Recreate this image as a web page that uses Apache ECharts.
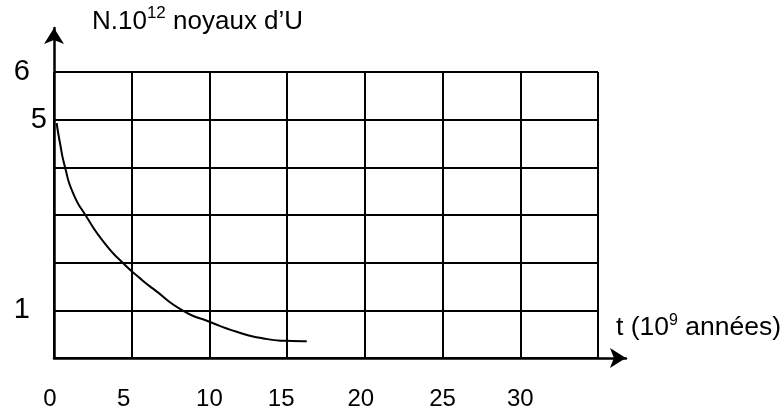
<!DOCTYPE html>
<html>
<head>
<meta charset="utf-8">
<script src="https://cdn.jsdelivr.net/npm/echarts@6/dist/echarts.min.js"></script>
<style>
html,body{margin:0;padding:0;background:#fff;}
#chart{width:784px;height:414px;}
</style>
</head>
<body>
<div id="chart"></div>
<script>
// Data
const tValues = [0.17, 0.39, 0.71, 1.24, 2.06, 3.28, 4.42, 5.58, 6.39, 8.32, 10.0, 11.75, 13.47, 14.97, 16.26];
const nValues = [4.93, 4.5, 4.0, 3.45, 2.98, 2.40, 2.0, 1.66, 1.45, 0.99, 0.76, 0.55, 0.41, 0.36, 0.35];
const xTickLabels = [0, 5, 10, 15, 20, 25, 30];
const yTickLabels = [1, 5, 6];
const yAxisTitle = ['N.10', '12', ' noyaux d\u2019U'];
const xAxisTitle = ['t (10', '9', ' ann\u00e9es)'];

const FONT = 'Liberation Sans, Arial, sans-serif';
const curve = tValues.map((t, i) => [t, nValues[i]]);

const chart = echarts.init(document.getElementById('chart'), null, {renderer: 'canvas'});
chart.setOption({
  backgroundColor: '#fff',
  animation: false,
  grid: [
    {left: 54, right: 186, top: 72, bottom: 56},
    {left: 54, right: 156, top: 28, bottom: 56}
  ],
  xAxis: [
    {
      gridIndex: 0, type: 'value', min: 0, max: 35, interval: 5,
      axisLine: {show: false}, axisTick: {show: false},
      splitLine: {show: true, lineStyle: {color: '#000', width: 2}},
      axisLabel: {
        margin: 29, fontSize: 24, color: '#000', fontFamily: FONT,
        formatter: function (v) {
          if (xTickLabels.indexOf(v) < 0) return '';
          if (v === 5) return '{l8|' + v + '}';
          if (v === 15) return '{l6|' + v + '}';
          if (v === 0 || v === 20) return '{l4|' + v + '}';
          return '{n|' + v + '}';
        },
        rich: {
          n: {fontSize: 24, fontFamily: FONT, color: '#000'},
          l4: {fontSize: 24, fontFamily: FONT, color: '#000', padding: [0, 8, 0, 0]},
          l6: {fontSize: 24, fontFamily: FONT, color: '#000', padding: [0, 12, 0, 0]},
          l8: {fontSize: 24, fontFamily: FONT, color: '#000', padding: [0, 16, 0, 0]}
        }
      }
    },
    {
      gridIndex: 1, type: 'value', min: 0, max: 1,
      axisLine: {show: true, symbol: ['none', 'arrow'], symbolSize: [15, 16], lineStyle: {color: '#000', width: 2.5}},
      axisTick: {show: false}, axisLabel: {show: false}, splitLine: {show: false},
      name: '{a|' + xAxisTitle[0] + '}{s|' + xAxisTitle[1] + '}{a|' + xAxisTitle[2] + '}',
      nameLocation: 'end', nameGap: -10,
      nameTextStyle: {
        align: 'left', verticalAlign: 'middle', padding: [0, 0, 60, 0],
        rich: {
          a: {fontSize: 26.5, fontFamily: FONT, color: '#000', lineHeight: 34},
          s: {fontSize: 16, fontFamily: FONT, color: '#000', lineHeight: 16, verticalAlign: 'top', padding: [2, 0, 0, 0]}
        }
      }
    }
  ],
  yAxis: [
    {
      gridIndex: 0, type: 'value', min: 0, max: 6, interval: 1,
      axisLine: {show: false}, axisTick: {show: false},
      splitLine: {show: true, lineStyle: {color: '#000', width: 2}},
      axisLabel: {
        margin: 7, fontSize: 29, color: '#000', fontFamily: FONT,
        formatter: function (v) {
          if (yTickLabels.indexOf(v) < 0) return '';
          if (v === 5) return '{n|' + v + '}';
          return '{f|' + v + '}';
        },
        rich: {
          n: {fontSize: 29, fontFamily: FONT, color: '#000'},
          f: {fontSize: 29, fontFamily: FONT, color: '#000', padding: [0, 17, 0, 0]}
        }
      }
    },
    {
      gridIndex: 1, type: 'value', min: 0, max: 1,
      axisLine: {show: true, symbol: ['none', 'arrow'], symbolSize: [15, 16], lineStyle: {color: '#000', width: 2.5}},
      axisTick: {show: false}, axisLabel: {show: false}, splitLine: {show: false},
      name: '{a|' + yAxisTitle[0] + '}{s|' + yAxisTitle[1] + '}{a|' + yAxisTitle[2] + '}',
      nameLocation: 'end', nameGap: -11,
      nameTextStyle: {
        align: 'left', verticalAlign: 'bottom', padding: [0, 0, 0, 38],
        rich: {
          a: {fontSize: 26, fontFamily: FONT, color: '#000', lineHeight: 34},
          s: {fontSize: 17, fontFamily: FONT, color: '#000', lineHeight: 17, verticalAlign: 'top'}
        }
      }
    }
  ],
  series: [
    {
      type: 'line', xAxisIndex: 0, yAxisIndex: 0,
      data: curve, showSymbol: false, smooth: 0.6,
      lineStyle: {color: '#000', width: 2}
    }
  ]
});
</script>
</body>
</html>
